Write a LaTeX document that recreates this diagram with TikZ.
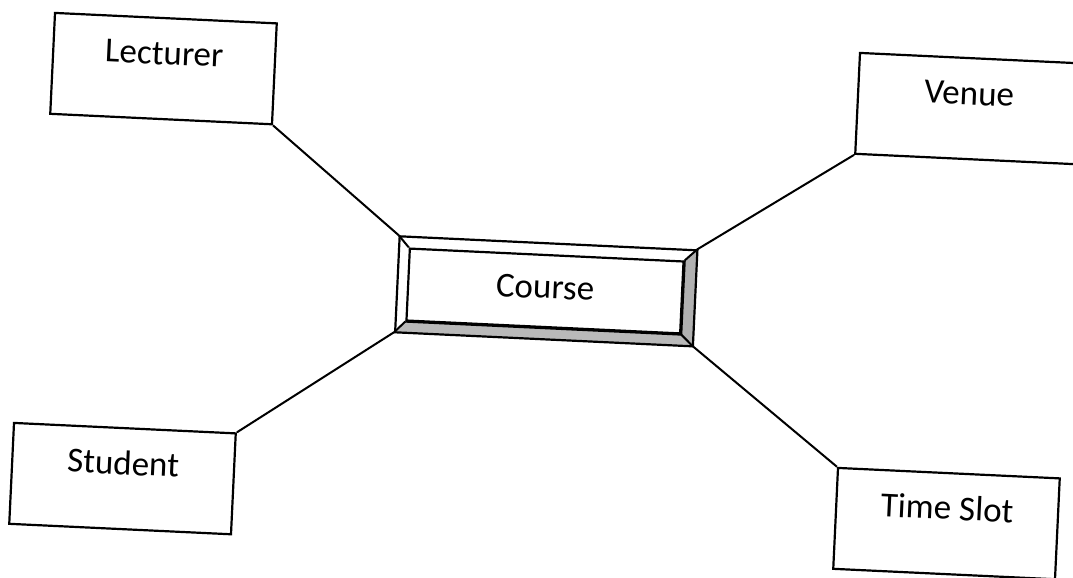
\documentclass[tikz,border=0pt]{standalone}
\usepackage{fontspec}
\setmainfont{Carlito}

\begin{document}
\begin{tikzpicture}[x=0.5pt,y=-0.5pt,line join=miter,
  ent/.style={draw,line width=1.1pt,rotate=-2.7,inner sep=0pt,
    minimum width=111pt,minimum height=50.5pt,
    text height=14pt,text depth=18pt,font=\fontsize{17.5}{21}\selectfont},
  crsout/.style={draw,line width=1.1pt,rotate=-2.7,inner sep=0pt,
    minimum width=148.5pt,minimum height=47.5pt},
  crsin/.style={draw,line width=1.1pt,rotate=-2.7,inner sep=0pt,
    minimum width=137pt,minimum height=36pt,
    text height=12pt,text depth=4.5pt,font=\fontsize{17.5}{21}\selectfont},
  link/.style={line width=1pt}]
\useasboundingbox (0,0) rectangle (1073,578);
\clip (0,0) rectangle (1073,578);
% outer boxes
\node[ent] (lec) at (163.5,68.6) {Lecturer};
\node[ent] (ven) at (968.5,108.6) {Venue};
\node[ent] (stu) at (122.5,478.6) {Student};
\node[ent] (tim) at (946.5,523.6) {Time Slot};
% bevelled course box
\node[crsout] (course) at (545.75,290.75) {};
\node[crsin] (crs) at (545,291) {Course};
\fill[gray!55] (course.south west) -- (course.south east) -- (crs.south east) -- (crs.south west) -- cycle;
\fill[gray!62] (course.south east) -- (course.north east) -- (crs.north east) -- (crs.south east) -- cycle;
\draw[line width=1.1pt] (course.south west) -- (course.south east) -- (course.north east);
\draw[line width=1.1pt] (crs.south west) -- (crs.south east) -- (crs.north east);
\foreach \c in {north west,north east,south east,south west}
  \draw[line width=1pt] (course.\c) -- (crs.\c);
% connectors
\draw[link] (lec.south east) -- (course.north west);
\draw[link] (ven.south west) -- (course.north east);
\draw[link] (stu.north east) -- (course.south west);
\draw[link] (tim.north west) -- (course.south east);
\end{tikzpicture}
\end{document}
